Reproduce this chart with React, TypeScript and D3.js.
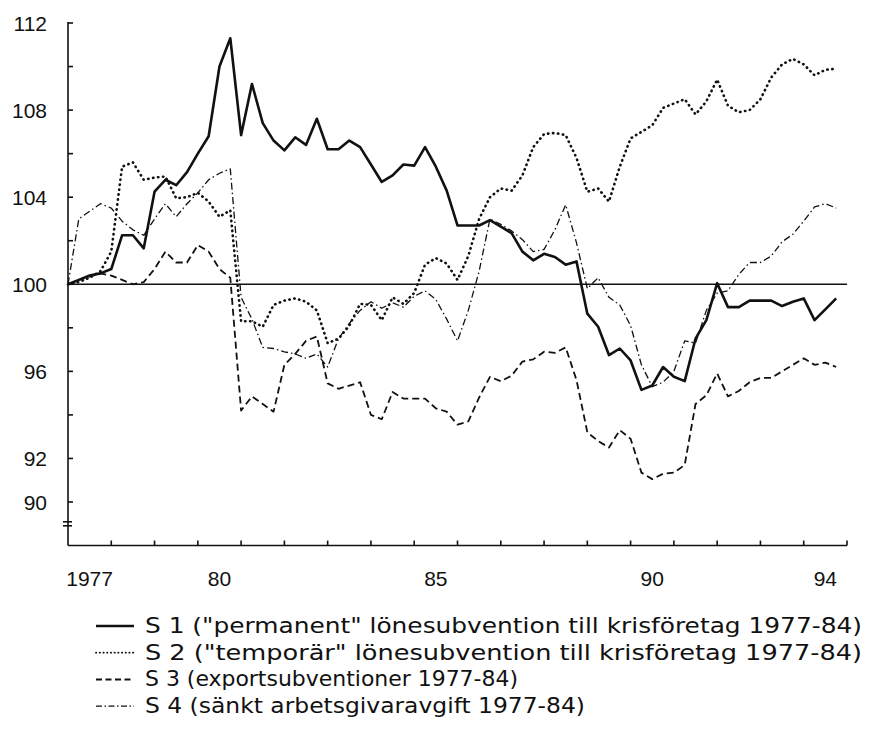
import React from "react";
import * as d3 from "d3";

// kvartal 1977:1 - 1994:4, index 1977:1 = 100
const quarters = d3.range(72).map((i) => 1977 + i / 4);

const s1 = [
  100.0, 100.2, 100.4, 100.5, 100.7, 102.25, 102.25, 101.65, 104.25, 104.8, 104.55, 105.15,
  106.0, 106.8, 110.0, 111.3, 106.85, 109.2, 107.4, 106.6, 106.15, 106.75, 106.4, 107.6,
  106.2, 106.2, 106.6, 106.3, 105.5, 104.7, 105.0, 105.5, 105.45, 106.3, 105.4, 104.3,
  102.7, 102.7, 102.7, 102.95, 102.65, 102.35, 101.5, 101.1, 101.4, 101.25, 100.9, 101.05,
  98.65, 98.05, 96.75, 97.05, 96.5, 95.15, 95.35, 96.2, 95.75, 95.55, 97.5, 98.35,
  100.05, 98.95, 98.95, 99.25, 99.25, 99.25, 99.0, 99.2, 99.35, 98.35, 98.85, 99.35,
];

const s2 = [
  100.0, 100.1, 100.3, 100.6, 101.5, 105.4, 105.6, 104.8, 104.9, 104.95, 103.95, 104.0,
  104.2, 103.8, 103.1, 103.4, 98.3, 98.3, 98.05, 99.05, 99.25, 99.35, 99.2, 98.8,
  97.3, 97.5, 98.1, 99.1, 99.05, 98.35, 99.4, 99.1, 99.6, 100.9, 101.2, 100.95,
  100.2, 101.3, 103.0, 104.0, 104.4, 104.3, 105.0, 106.3, 106.9, 106.95, 106.85, 105.8,
  104.25, 104.4, 103.8, 105.4, 106.7, 107.0, 107.3, 108.1, 108.3, 108.5, 107.8, 108.4,
  109.4, 108.2, 107.9, 108.0, 108.5, 109.5, 110.1, 110.35, 110.1, 109.6, 109.85, 109.9,
];

const s3 = [
  100.0, 100.2, 100.35, 100.5, 100.4, 100.2, 100.0, 100.1, 100.7, 101.5, 101.0, 101.0,
  101.8, 101.5, 100.7, 100.3, 94.2, 94.85, 94.5, 94.15, 96.3, 96.8, 97.4, 97.6,
  95.45, 95.2, 95.35, 95.5, 94.0, 93.8, 95.05, 94.75, 94.75, 94.75, 94.3, 94.15,
  93.55, 93.7, 94.8, 95.75, 95.55, 95.8, 96.45, 96.55, 96.9, 96.85, 97.1, 95.6,
  93.2, 92.8, 92.5, 93.3, 92.9, 91.35, 91.05, 91.3, 91.35, 91.7, 94.5, 94.9,
  95.9, 94.85, 95.1, 95.5, 95.7, 95.7, 96.0, 96.3, 96.6, 96.3, 96.4, 96.2,
];

const s4 = [
  100.0, 103.0, 103.35, 103.7, 103.5, 102.9, 102.5, 102.25, 103.0, 103.7, 103.1, 103.7,
  104.2, 104.8, 105.1, 105.3, 99.4, 98.4, 97.1, 97.05, 96.9, 96.8, 96.6, 96.8,
  96.2, 97.5, 98.2, 98.8, 99.2, 98.9, 99.15, 98.95, 99.45, 99.7, 99.3, 98.4,
  97.4, 98.8, 100.6, 103.0, 102.75, 102.45, 102.05, 101.5, 101.6, 102.5, 103.65, 101.9,
  99.8, 100.3, 99.4, 99.05, 98.1, 96.3, 95.3, 95.5, 96.0, 97.4, 97.3, 98.8,
  99.6, 99.7, 100.45, 101.0, 101.0, 101.3, 101.95, 102.3, 102.9, 103.55, 103.7, 103.5,
];

const yLabelled = [90, 92, 96, 100, 104, 108, 112];
const yUnlabelled = [94, 98, 102, 106, 110];
const xTickYears = d3.range(1978, 1996);
const xLabelYears = [1977, 1980, 1985, 1990, 1994];
const xLabelTexts = ["1977", "80", "85", "90", "94"];

const legendTexts = [
  'S 1 ("permanent" lönesubvention till krisföretag 1977-84)',
  'S 2 ("temporär" lönesubvention till krisföretag 1977-84)',
  "S 3 (exportsubventioner 1977-84)",
  "S 4 (sänkt arbetsgivaravgift 1977-84)",
];

const styles = [
  { width: 2.6, dash: "none", cap: "butt" },
  { width: 2.6, dash: "0.4 4.6", cap: "round" },
  { width: 1.8, dash: "7 4", cap: "butt" },
  { width: 1.3, dash: "7 3 1.5 3", cap: "butt" },
];

// legendens provlinjer är kortare/tunnare än i diagrammet
const legendStyles = [
  { width: 2.6, dash: "none", cap: "butt" },
  { width: 1.8, dash: "0.3 3.4", cap: "round" },
  { width: 2, dash: "6 3.5", cap: "butt" },
  { width: 1.4, dash: "6 2.5 1.5 2.5", cap: "butt" },
];

export default function App() {
  const x = d3.scaleLinear().domain([1977, 1995]).range([68, 847]);
  const y = d3.scaleLinear().domain([90, 112]).range([502, 23]);
  const axisY = y(88);

  const line = d3
    .line<number>()
    .x((d, i) => x(quarters[i]))
    .y((d) => y(d));

  const series = [s1, s2, s3, s4];
  const legendWidths = [717, 717, 373, 440];
  const font = "'Liberation Sans', Arial, sans-serif";
  const legendFont = "'Liberation Sans Narrow', 'DejaVu Sans Condensed', sans-serif";

  return (
    <svg
      width={869}
      height={736}
      style={{ position: "absolute", left: 0, top: 0, background: "#fff" }}
    >
      {/* axlar */}
      <g stroke="#111" strokeWidth={1.6} fill="none">
        <line x1={x(1977)} x2={x(1977)} y1={y(112) - 1} y2={axisY} />
        <line x1={x(1977)} x2={x(1995)} y1={axisY} y2={axisY} />
        {[...yLabelled, ...yUnlabelled].map((v) => (
          <line key={"yt" + v} x1={x(1977)} x2={x(1977) + 5} y1={y(v)} y2={y(v)} />
        ))}
        {xTickYears.map((yr) => (
          <line key={"xt" + yr} x1={x(yr)} x2={x(yr)} y1={axisY} y2={axisY - 5} />
        ))}
        {/* brytmarkering */}
        <line x1={x(1977) - 5} x2={x(1977) + 4} y1={y(89) - 2} y2={y(89) - 2} />
        <line x1={x(1977) - 5} x2={x(1977) + 4} y1={y(89) + 2} y2={y(89) + 2} />
        {/* 100-linje */}
        <line x1={x(1977)} x2={x(1995)} y1={y(100)} y2={y(100)} strokeWidth={1.4} />
      </g>

      <g fill="#111" fontFamily={font} fontSize={21}>
        {yLabelled.map((v) => (
          <text key={"yl" + v} x={47} y={y(v)} dy="0.36em" textAnchor="end">
            {v}
          </text>
        ))}
        {xLabelYears.map((yr, i) => (
          <text key={"xl" + yr} x={x(yr + 0.5)} y={586} textAnchor="middle">
            {xLabelTexts[i]}
          </text>
        ))}
      </g>

      {/* serier */}
      <g fill="none" stroke="#111" strokeLinejoin="round">
        {series.map((s, k) => (
          <path
            key={"s" + k}
            d={line(s) || ""}
            strokeWidth={styles[k].width}
            strokeDasharray={styles[k].dash}
            strokeLinecap={styles[k].cap as any}
          />
        ))}
      </g>

      {/* legend */}
      <g>
        {legendTexts.map((t, k) => {
          const ly = 626 + k * 26.7;
          return (
            <g key={"lg" + k}>
              <line
                x1={96}
                x2={134}
                y1={ly}
                y2={ly}
                stroke="#111"
                strokeWidth={legendStyles[k].width}
                strokeDasharray={legendStyles[k].dash}
                strokeLinecap={legendStyles[k].cap as any}
              />
              <text
                x={145}
                y={ly + 7}
                fontFamily={legendFont}
                fontSize={21}
                fill="#111"
                textLength={legendWidths[k]}
                lengthAdjust="spacingAndGlyphs"
              >
                {t}
              </text>
            </g>
          );
        })}
      </g>
    </svg>
  );
}
